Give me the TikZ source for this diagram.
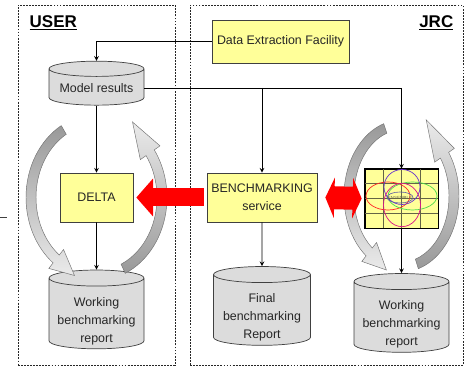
\documentclass[tikz,border=0pt]{standalone}
\usepackage{fontspec}
\setmainfont{Liberation Sans}
\usetikzlibrary{positioning,shapes.geometric,arrows.meta,calc}
\definecolor{boxyellow}{RGB}{255,255,153}
\definecolor{cylgray}{RGB}{220,220,220}
\definecolor{edgegray}{RGB}{64,64,64}
\definecolor{gridgray}{RGB}{100,100,70}
\definecolor{arrowred}{RGB}{255,0,0}
% Text of a tall cylinder, set a little below its middle
\newcommand{\storetext}[1]{\raisebox{-0.18cm}[\height][\depth]{\begin{tabular}{@{}c@{}}#1\end{tabular}}}
\begin{document}
\begin{tikzpicture}[node distance=3cm, font=\fontsize{10.6}{15.3}\selectfont]
    \useasboundingbox (0,0) rectangle (14.01,11.01);
    % Define styles for nodes and arrows
    \tikzstyle{area} = [rectangle, draw=black!85, line width=0.7pt, dash pattern=on 1.6pt off 1pt, minimum height=10.8cm]
    \tikzstyle{box} = [rectangle, fill=boxyellow, draw=edgegray, line width=0.6pt, minimum height=1.47cm, align=center, text=black!85]
    \tikzstyle{store} = [cylinder, shape border rotate=90, shape aspect=0.2, fill=cylgray, draw=edgegray, line width=0.6pt, minimum width=2.85cm, align=center, inner sep=1pt, text=black!85]
    \tikzstyle{flow} = [line width=0.8pt, ->, >=stealth]
    \tikzstyle{gridline} = [draw=gridgray, line width=0.5pt]
    % Gray cycle arrows
    \tikzset{cycleDown/.style={top color=black!40, bottom color=black!8, draw=black!55, line width=0.4pt},
        cycleUp/.style={top color=black!8, bottom color=black!40, draw=black!55, line width=0.4pt}}
    % Red block arrows
    \tikzset{redArrow/.style={line width=0.54cm, arrowred, -{Triangle[width=1.11cm,length=0.5cm]}},
        redDouble/.style={line width=0.69cm, arrowred, {Triangle[width=1.2cm,length=0.27cm]}-{Triangle[width=1.2cm,length=0.27cm]}}}

    % Areas
    \node (userarea) [area, minimum width=4.71cm] at (2.895,5.46) {};
    \node (jrcarea) [area, minimum width=8.19cm] at (9.795,5.46) {};
    \node (userlabel) [anchor=base west, font=\fontsize{14.5}{16}\selectfont\bfseries] at ([xshift=0.24cm, yshift=-0.69cm]userarea.north west) {\underline{USER}};
    \node (jrclabel) [anchor=base east, font=\fontsize{14.5}{16}\selectfont\bfseries] at ([xshift=-0.18cm, yshift=-0.69cm]jrcarea.north east) {\underline{JRC}};
    \draw [edgegray, line width=0.6pt] (0,4.5) -- (0.21,4.5);

    % Nodes
    \node (def) [box, minimum width=4.11cm, minimum height=1.29cm] at (8.415,9.765) {Data Extraction Facility};
    \node (model) [store, minimum height=1.32cm] at (2.895,8.37) {Model results};
    \node (delta) [box, minimum width=2.19cm, node distance=3.285cm, below of=model] {DELTA};
    \node (workuser) [store, minimum height=2.13cm, node distance=3.51cm, below of=delta] {\storetext{Working\\benchmarking\\report}};
    \node (bench) [box, minimum width=3.3cm, node distance=4.965cm, right of=delta] {BENCHMARKING\\service};
    \node (final) [store, minimum width=2.91cm, minimum height=2.28cm, node distance=3.405cm, below of=bench] {\storetext{Final\\benchmarking\\Report}};
    \node (ensemble) [rectangle, fill=boxyellow, draw=black, line width=0.6pt, minimum width=2.19cm, minimum height=1.77cm, node distance=4.185cm, right of=bench, yshift=-0.03cm] {};
    \node (workjrc) [store, minimum height=2.34cm, node distance=3.585cm, below of=ensemble] {\storetext{Working\\benchmarking\\report}};

    % Ensemble grid and ellipses
    \foreach \f in {0.25,0.5,0.75} {
        \draw [gridline] ($(ensemble.north west)!\f!(ensemble.north east)$) -- ($(ensemble.south west)!\f!(ensemble.south east)$);
        \draw [gridline] ($(ensemble.north west)!\f!(ensemble.south west)$) -- ($(ensemble.north east)!\f!(ensemble.south east)$);
    }
    \draw [black, line width=0.6pt] (ensemble.north west) rectangle (ensemble.south east);
    \draw [red!85!white, line width=0.6pt] ([shift={(-0.405,0.075)}]ensemble.center) ellipse [x radius=0.66cm, y radius=0.42cm];
    \draw [green!80!black!70!white, line width=0.6pt] ([shift={(0.33,0.075)}]ensemble.center) ellipse [x radius=0.735cm, y radius=0.42cm];
    \draw [blue!75!red!80!white, line width=0.6pt] ([shift={(0.015,0.345)}]ensemble.center) ellipse [x radius=0.54cm, y radius=0.525cm];
    \draw [magenta!90!black, line width=0.6pt] ([shift={(0.015,-0.195)}]ensemble.center) ellipse [x radius=0.555cm, y radius=0.65cm];
    \draw [blue!30!gray, line width=0.5pt] ([shift={(-0.045,0.03)}]ensemble.center) ellipse [x radius=0.39cm, y radius=0.165cm];
    \node (ensname) [inner sep=0pt, font=\fontsize{3.8}{4}\selectfont, text=gridgray] at ([shift={(-0.045,0.03)}]ensemble.center) {ENSEMBLE};

    % Cycle arrows round DELTA
    \shadedraw [cycleDown] ([shift={(120:2.115 and 2.49)}]delta.center)
        arc [start angle=120, end angle=232, x radius=2.115cm, y radius=2.49cm]
        -- ([shift={(232:2.325 and 2.7)}]delta.center) -- ([shift={(-0.66,-2.34)}]delta.center)
        -- ([shift={(232:1.605 and 1.98)}]delta.center) -- ([shift={(232:1.815 and 2.19)}]delta.center)
        arc [start angle=232, end angle=120, x radius=1.815cm, y radius=2.19cm] -- cycle;
    \shadedraw [cycleUp] ([shift={(-66:2.115 and 2.49)}]delta.center)
        arc [start angle=-66, end angle=35, x radius=2.115cm, y radius=2.49cm]
        -- ([shift={(35:2.325 and 2.7)}]delta.center) -- ([shift={(1.08,2.265)}]delta.center)
        -- ([shift={(35:1.605 and 1.98)}]delta.center) -- ([shift={(35:1.815 and 2.19)}]delta.center)
        arc [start angle=35, end angle=-66, x radius=1.815cm, y radius=2.19cm] -- cycle;

    % Cycle arrows round the ensemble
    \coordinate (ens) at ([yshift=0.075cm]ensemble.center);
    \shadedraw [cycleDown] ([shift={(108:1.725 and 2.28)}]ens)
        arc [start angle=108, end angle=232, x radius=1.725cm, y radius=2.28cm]
        -- ([shift={(232:1.935 and 2.49)}]ens) -- ([shift={(-0.453,-2.22)}]ens)
        -- ([shift={(232:1.215 and 1.77)}]ens) -- ([shift={(232:1.425 and 1.98)}]ens)
        arc [start angle=232, end angle=108, x radius=1.425cm, y radius=1.98cm] -- cycle;
    \shadedraw [cycleUp] ([shift={(-73:1.725 and 2.28)}]ens)
        arc [start angle=-73, end angle=35, x radius=1.725cm, y radius=2.28cm]
        -- ([shift={(35:1.935 and 2.49)}]ens) -- ([shift={(0.741,2.286)}]ens)
        -- ([shift={(35:1.215 and 1.77)}]ens) -- ([shift={(35:1.425 and 1.98)}]ens)
        arc [start angle=35, end angle=-73, x radius=1.425cm, y radius=1.98cm] -- cycle;

    % Arrows (connections)
    \draw [flow] (def.west) -| (model.north);
    \draw [flow] (model.east) -| (ensemble.north);
    \draw [flow] (model.east -| bench.north) -- (bench.north);
    \draw [flow] (model.south) -- (delta.north);
    \draw [flow] (delta.south) -- (workuser.north);
    \draw [flow] (bench.south) -- (final.north);
    \draw [flow] (ensemble.south) -- (workjrc.north);
    \draw [redArrow] ([xshift=-0.09cm]bench.west) -- ([xshift=0.09cm]delta.east);
    \draw [redDouble] ([xshift=0.24cm]bench.east) -- ([xshift=-0.09cm]ensemble.west);
\end{tikzpicture}
\end{document}
